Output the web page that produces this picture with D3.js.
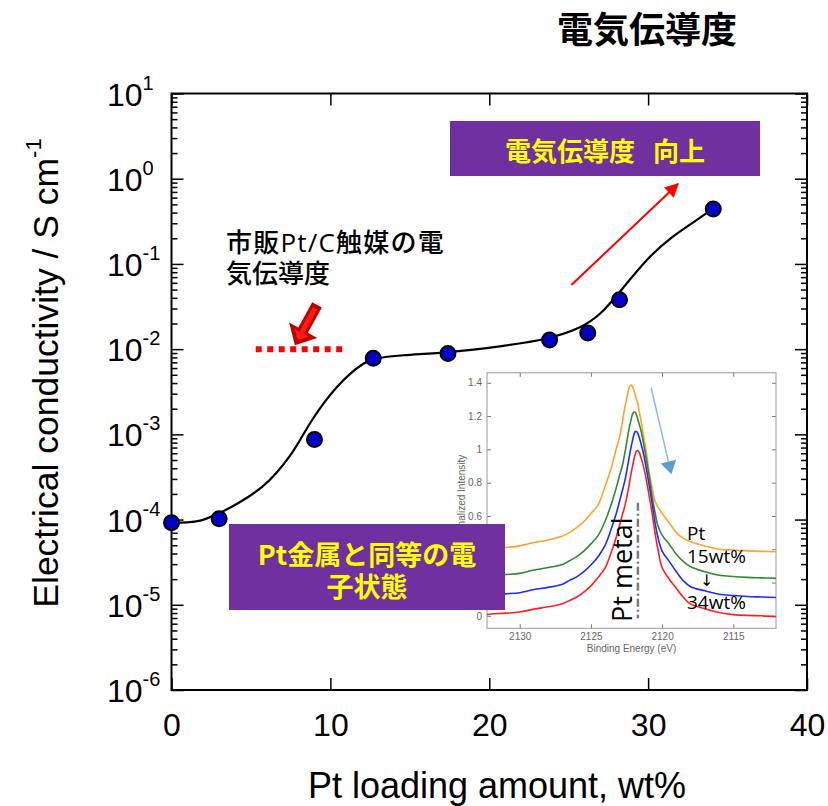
<!DOCTYPE html>
<html><head><meta charset="utf-8">
<script src="https://cdn.jsdelivr.net/npm/d3@7"></script>
<style>body{margin:0;background:#fff}</style>
</head><body>
<svg id="c" width="828" height="806"></svg>
<script>
// ---------- main chart data ----------
const loading = [0, 3, 9, 12.7, 17.4, 23.8, 26.2, 28.2, 34.1];
const conductivity = [9.2e-5, 1.02e-4, 8.7e-4, 7.8e-3, 8.9e-3, 1.28e-2, 1.55e-2, 3.8e-2, 0.44];
const fitLoading = [0, 1.0, 1.8, 3.05, 4.3, 5.8, 6.6, 7.45, 8.1, 8.7, 9.55, 10.4, 11.25, 12.05, 12.7, 14.4, 17.4, 20.7, 23.8, 25.7, 27.0, 28.3, 30.0, 31.5, 33.0, 34.1];
const fitConductivity = [9.2e-5, 9.25e-5, 9.45e-5, 1.19e-4, 1.58e-4, 2.43e-4, 3.49e-4, 5.47e-4, 8.6e-4, 1.35e-3, 2.31e-3, 3.62e-3, 5.2e-3, 6.8e-3, 7.8e-3, 8.5e-3, 9.1e-3, 1.07e-2, 1.32e-2, 1.74e-2, 2.5e-2, 4.9e-2, 0.12, 0.21, 0.32, 0.45];
const commercialRange = [5.3, 10.95];
const commercialValue = 1e-2;
const xTicks = [0, 10, 20, 30, 40];
const yTickExps = [1, 0, -1, -2, -3, -4, -5, -6];

// ---------- inset data ----------
const bindingEnergy = [2132.6, 2132, 2131, 2130, 2129, 2128, 2127, 2126.5, 2126, 2125.5, 2125, 2124.5, 2124, 2123.6, 2123.2, 2123.0, 2122.8, 2122.6, 2122.4, 2122.3, 2122.2, 2122.1, 2122.0, 2121.9, 2121.8, 2121.7, 2121.6, 2121.5, 2121.3, 2121.1, 2120.9, 2120.7, 2120.5, 2120.3, 2120.0, 2119.5, 2119, 2118.5, 2118, 2117, 2116, 2115, 2114, 2113, 2112];
const intensityPt = [0.400, 0.403, 0.41, 0.42, 0.44, 0.455, 0.48, 0.50, 0.53, 0.565, 0.615, 0.665, 0.78, 0.88, 1.01, 1.07, 1.16, 1.26, 1.34, 1.375, 1.386, 1.38, 1.36, 1.33, 1.30, 1.27, 1.225, 1.18, 1.08, 0.98, 0.86, 0.77, 0.69, 0.655, 0.615, 0.56, 0.50, 0.465, 0.445, 0.42, 0.40, 0.395, 0.39, 0.387, 0.385];
const intensity15 = [0.24, 0.242, 0.248, 0.255, 0.275, 0.29, 0.308, 0.331, 0.356, 0.389, 0.432, 0.482, 0.57, 0.662, 0.775, 0.84, 0.90, 0.986, 1.085, 1.134, 1.17, 1.205, 1.223, 1.223, 1.206, 1.179, 1.149, 1.119, 1.034, 0.935, 0.835, 0.718, 0.623, 0.542, 0.485, 0.43, 0.37, 0.325, 0.295, 0.265, 0.244, 0.236, 0.231, 0.228, 0.225];
const intensityMid = [0.125, 0.126, 0.132, 0.139, 0.158, 0.171, 0.19, 0.213, 0.234, 0.265, 0.305, 0.355, 0.425, 0.515, 0.621, 0.685, 0.75, 0.818, 0.91, 0.96, 1.005, 1.045, 1.082, 1.105, 1.108, 1.095, 1.07, 1.04, 0.973, 0.88, 0.78, 0.675, 0.562, 0.475, 0.389, 0.327, 0.265, 0.21, 0.175, 0.15, 0.13, 0.122, 0.116, 0.113, 0.11];
const intensity34 = [0.005, 0.011, 0.016, 0.023, 0.04, 0.054, 0.073, 0.092, 0.113, 0.143, 0.18, 0.23, 0.288, 0.375, 0.478, 0.54, 0.605, 0.665, 0.748, 0.795, 0.845, 0.89, 0.93, 0.967, 0.99, 0.993, 0.98, 0.955, 0.895, 0.813, 0.715, 0.615, 0.50, 0.403, 0.29, 0.22, 0.165, 0.11, 0.07, 0.043, 0.02, 0.007, 0.002, 0.0, -0.005];
const spectraColors = ["#ffa32a", "#2e8b2e", "#1f2bff", "#ff1f1f"];
const insetXTicks = [2130, 2125, 2120, 2115];
const insetYTicks = [0, 0.2, 0.4, 0.6, 0.8, 1, 1.2, 1.4];
const insetYLabels = [0, 0.6, 0.8, 1, 1.2, 1.4]; // 0.2 and 0.4 sit under the purple box
const ptMetalEnergy = 2121.7;

// ---------- setup ----------
const svg = d3.select("#c");
const LAT = "'Liberation Sans', Arial, sans-serif";
const JP = "'Noto Sans CJK JP', 'Noto Sans CJK SC', sans-serif";
const OS = "'Open Sans', sans-serif";
const m = {l: 171.5, r: 807, t: 93.5, b: 690};
const x = d3.scaleLinear().domain([0, 40]).range([m.l, m.r]);
const y = d3.scaleLog().domain([1e-6, 10]).range([m.b, m.t]);

// title
svg.append("text").attr("x", 557).attr("y", 43).attr("font-family", JP).attr("font-weight", "bold")
  .attr("font-size", 36).attr("fill", "#000").text("電気伝導度");

// axes ticks
const allY = y.ticks();
const isMajor = v => Math.abs(Math.log10(v) - Math.round(Math.log10(v))) < 1e-9;
const majorY = yTickExps.map(e => Math.pow(10, e));
const minorY = allY.filter(v => !isMajor(v));
function noDomain(g) { g.select(".domain").remove(); }
svg.append("g").attr("transform", `translate(${m.l},0)`).call(d3.axisLeft(y).tickValues(majorY).tickSize(-12).tickFormat("")).call(noDomain);
svg.append("g").attr("transform", `translate(${m.l},0)`).call(d3.axisLeft(y).tickValues(minorY).tickSize(-6).tickFormat("")).call(noDomain);
svg.append("g").attr("transform", `translate(${m.r},0)`).call(d3.axisRight(y).tickValues(majorY).tickSize(-12).tickFormat("")).call(noDomain);
svg.append("g").attr("transform", `translate(${m.r},0)`).call(d3.axisRight(y).tickValues(minorY).tickSize(-6).tickFormat("")).call(noDomain);
const gx = svg.append("g").attr("transform", `translate(0,${m.b})`)
  .call(d3.axisBottom(x).tickValues(xTicks).tickSize(-12).tickPadding(23)).call(noDomain);
gx.selectAll("text").attr("font-family", LAT).attr("font-size", 32).attr("fill", "#000");
svg.append("g").attr("transform", `translate(0,${m.t})`)
  .call(d3.axisTop(x).tickValues(xTicks).tickSize(-12).tickFormat("")).call(noDomain);
svg.selectAll(".tick line").attr("stroke", "#000").attr("stroke-width", 1.5);

// frame
svg.append("rect").attr("x", m.l).attr("y", m.t).attr("width", m.r - m.l).attr("height", m.b - m.t)
  .attr("fill", "none").attr("stroke", "#000").attr("stroke-width", 2);

// y tick labels
const yl = svg.append("g").attr("font-family", LAT).attr("fill", "#000");
yTickExps.forEach(e => {
  const t = yl.append("text").attr("x", 107).attr("y", y(Math.pow(10, e)) + 12).attr("font-size", 32);
  t.append("tspan").text("10");
  t.append("tspan").attr("font-size", 20).attr("dy", -16).text(String(e));
});

// axis titles
svg.append("text").attr("x", 497).attr("y", 798).attr("text-anchor", "middle").attr("font-family", LAT)
  .attr("font-size", 36).attr("fill", "#000").text("Pt loading amount, wt%");
const yt = svg.append("text").attr("transform", "translate(58,373) rotate(-90)").attr("text-anchor", "middle")
  .attr("font-family", LAT).attr("font-size", 35.5).attr("fill", "#000");
yt.append("tspan").text("Electrical conductivity / S cm");
yt.append("tspan").attr("font-size", 22).attr("dy", -17).text("-1");

// fit curve
const line = d3.line().x(d => x(d[0])).y(d => y(d[1])).curve(d3.curveBasis);
svg.append("path").datum(d3.zip(fitLoading, fitConductivity)).attr("d", line)
  .attr("fill", "none").attr("stroke", "#000").attr("stroke-width", 2.2);

// data points
svg.append("g").selectAll("circle").data(d3.zip(loading, conductivity)).join("circle")
  .attr("cx", d => x(d[0])).attr("cy", d => y(d[1])).attr("r", 7.5)
  .attr("fill", "#0000c8").attr("stroke", "#000").attr("stroke-width", 2);

// commercial Pt/C dotted line
svg.append("line").attr("x1", x(commercialRange[0])).attr("x2", x(commercialRange[1]))
  .attr("y1", y(commercialValue)).attr("y2", y(commercialValue))
  .attr("stroke", "#ff0000").attr("stroke-width", 6).attr("stroke-dasharray", "6,5.5");

// block arrow pointing to the commercial line
const tipX = x(7.77), tipY = y(commercialValue) - 4;
const ba = svg.append("g").attr("transform", `translate(${tipX},${tipY}) rotate(28.7)`);
ba.append("polygon").attr("points", "0,0 16,-17 5.5,-17 5.5,-46 -5.5,-46 -5.5,-17 -16,-17")
  .attr("fill", "#c00000");
ba.append("polygon").attr("points", "0,-6 8,-14 2.5,-14 2.5,-42 -2.5,-42 -2.5,-14 -8,-14")
  .attr("fill", "#ff1a1a");

// annotation text
const ann = svg.append("text").attr("font-family", JP).attr("font-weight", 500).attr("font-size", 26).attr("fill", "#000");
const l1 = ann.append("tspan").attr("x", 226).attr("y", 252).attr("letter-spacing", 1.2);
l1.append("tspan").text("市販");
l1.append("tspan").attr("font-family", OS).text("Pt/C");
l1.append("tspan").text("触媒の電");
ann.append("tspan").attr("x", 226).attr("y", 283).text("気伝導度");

// red trend arrow
svg.append("defs").append("marker").attr("id", "ah").attr("viewBox", "0 0 10 10").attr("refX", 9).attr("refY", 5)
  .attr("markerWidth", 8).attr("markerHeight", 7).attr("markerUnits", "strokeWidth").attr("orient", "auto")
  .append("path").attr("d", "M0,0 L10,5 L0,10 z").attr("fill", "#ff0000");
svg.append("line").attr("x1", x(25.17)).attr("y1", y(0.0566)).attr("x2", x(31.88)).attr("y2", y(0.867))
  .attr("stroke", "#ff0000").attr("stroke-width", 2).attr("marker-end", "url(#ah)");

// purple box top
svg.append("rect").attr("x", 450).attr("y", 121).attr("width", 310).attr("height", 55).attr("fill", "#7030a0");
const tb = svg.append("text").attr("x", 605).attr("y", 161).attr("text-anchor", "middle").attr("font-family", JP)
  .attr("font-weight", "bold").attr("font-size", 26).attr("fill", "#ffff00");
tb.append("tspan").text("電気伝導度");
tb.append("tspan").attr("dx", 18).text("向上");

// ---------- inset ----------
const ix = d3.scaleLinear().domain([2132.3, 2112]).range([487, 776]);
const iy = d3.scaleLinear().domain([-0.075, 1.46]).range([628.3, 372.8]);
const inset = svg.append("g");
inset.append("rect").attr("x", 456).attr("y", 368).attr("width", 330).attr("height", 292).attr("fill", "#fff");
svg.append("clipPath").attr("id", "iclip").append("rect").attr("x", 487).attr("y", 372.8).attr("width", 289).attr("height", 255.5);
const IG = "#666";
function styleInset(g) {
  g.select(".domain").remove();
  g.selectAll(".tick line").attr("stroke", "#777").attr("stroke-width", 1);
  g.selectAll("text").attr("font-family", LAT).attr("font-size", 10).attr("fill", IG);
}
inset.append("g").attr("transform", "translate(0,628.3)").call(d3.axisBottom(ix).tickValues(insetXTicks).tickSize(-4).tickPadding(5).tickFormat(d3.format("d"))).call(styleInset);
inset.append("g").attr("transform", "translate(0,372.8)").call(d3.axisTop(ix).tickValues(insetXTicks).tickSize(-4).tickFormat("")).call(styleInset);
inset.append("g").attr("transform", "translate(487,0)").call(d3.axisLeft(iy).tickValues(insetYTicks).tickSize(-4).tickFormat("")).call(styleInset);
inset.append("g").attr("transform", "translate(487,0)").call(d3.axisLeft(iy).tickValues(insetYLabels).tickSize(0).tickPadding(5).tickFormat(d => String(d))).call(styleInset);
inset.append("g").attr("transform", "translate(776,0)").call(d3.axisRight(iy).tickValues(insetYTicks).tickSize(-4).tickFormat("")).call(styleInset);
inset.append("rect").attr("x", 487).attr("y", 372.8).attr("width", 289).attr("height", 255.5)
  .attr("fill", "none").attr("stroke", "#999").attr("stroke-width", 1);
inset.append("text").attr("x", 631.5).attr("y", 652).attr("text-anchor", "middle").attr("font-family", LAT)
  .attr("font-size", 10).attr("fill", IG).text("Binding Energy (eV)");
inset.append("text").attr("transform", "translate(465,500) rotate(-90)").attr("text-anchor", "middle").attr("font-family", LAT)
  .attr("font-size", 10).attr("fill", IG).text("Normalized Intensity");

const spectra = [intensityPt, intensity15, intensityMid, intensity34];
const sline = d3.line().x(d => ix(d[0])).y(d => iy(d[1])).curve(d3.curveCatmullRom.alpha(0.5));
const sg = inset.append("g").attr("clip-path", "url(#iclip)");
spectra.forEach((s, i) => {
  sg.append("path").datum(d3.zip(bindingEnergy, s)).attr("d", sline)
    .attr("fill", "none").attr("stroke", spectraColors[i]).attr("stroke-width", 1.6);
});

// Pt metal reference line
inset.append("line").attr("x1", ix(ptMetalEnergy)).attr("x2", ix(ptMetalEnergy)).attr("y1", iy(0.68)).attr("y2", iy(-0.015))
  .attr("stroke", "#7a7a7a").attr("stroke-width", 2.5).attr("stroke-dasharray", "8,3,2,3");
inset.append("text").attr("transform", `translate(${ix(ptMetalEnergy) - 6},622) rotate(-90)`)
  .attr("font-family", OS).attr("font-size", 27).attr("fill", "#000").text("Pt metal");

// blue arrow
const bx1 = ix(2120.77), by1 = iy(1.37), bx2 = ix(2119.35), by2 = iy(0.85);
const ang = Math.atan2(by2 - by1, bx2 - bx1);
const hl = 13, hw = 8;
const baseX = bx2 - hl * Math.cos(ang), baseY = by2 - hl * Math.sin(ang);
inset.append("line").attr("x1", bx1).attr("y1", by1).attr("x2", baseX).attr("y2", baseY)
  .attr("stroke", "#8cbbe8").attr("stroke-width", 1.5);
inset.append("polygon").attr("points", [
  [bx2, by2],
  [baseX + hw * Math.sin(ang), baseY - hw * Math.cos(ang)],
  [baseX - hw * Math.sin(ang), baseY + hw * Math.cos(ang)]
].map(p => p.join(",")).join(" ")).attr("fill", "#5b9bd5");

// series labels
const sl = inset.append("g").attr("font-family", OS).attr("font-size", 19).attr("fill", "#000");
sl.append("text").attr("x", 687).attr("y", 540).text("Pt");
sl.append("text").attr("x", 687).attr("y", 563).text("15wt%");
sl.append("text").attr("x", 700).attr("y", 586).attr("font-family", "'DejaVu Sans', sans-serif").attr("font-size", 16).text("↓");
sl.append("text").attr("x", 687).attr("y", 609).text("34wt%");

// purple box bottom
svg.append("rect").attr("x", 229).attr("y", 524).attr("width", 276).attr("height", 86).attr("fill", "#7030a0");
const bt = svg.append("text").attr("text-anchor", "middle").attr("font-family", JP).attr("font-weight", "bold")
  .attr("font-size", 27).attr("fill", "#ffff00");
bt.append("tspan").attr("x", 367).attr("y", 565).text("Pt金属と同等の電");
bt.append("tspan").attr("x", 367).attr("y", 597).text("子状態");
</script>
</body></html>
